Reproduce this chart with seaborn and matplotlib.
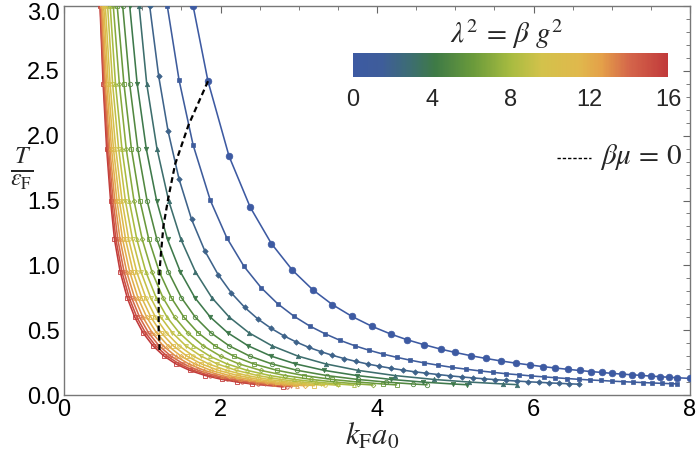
import numpy as np
import pandas as pd
import matplotlib
matplotlib.use("Agg")
import matplotlib.pyplot as plt
import matplotlib.transforms as mtransforms
import seaborn as sns
from matplotlib.colors import LinearSegmentedColormap, Normalize
from matplotlib.lines import Line2D
import matplotlib.colorbar as mcolorbar

# ---------------- data ----------------
LAMBDA2 = list(range(17))

# lambda^2 = 0
X0 = [1.65, 1.84, 2.11, 2.38, 2.65, 2.92, 3.18, 3.43, 3.68, 3.93, 4.18, 4.38, 4.6, 4.82, 5.0, 5.2,
      5.39, 5.58, 5.77, 5.95, 6.12, 6.28, 6.44, 6.59, 6.73, 6.87, 7.0, 7.13, 7.26, 7.38, 7.5, 7.62,
      7.73, 7.84, 8.0]
Y0 = [3.0, 2.42, 1.84, 1.448, 1.168, 0.962, 0.811, 0.697, 0.606, 0.531, 0.469, 0.427, 0.388, 0.353,
      0.328, 0.303, 0.282, 0.263, 0.246, 0.232, 0.219, 0.208, 0.198, 0.189, 0.181, 0.174, 0.167,
      0.161, 0.156, 0.151, 0.146, 0.141, 0.137, 0.133, 0.128]
# lambda^2 = 1
X1 = [1.32, 1.47, 1.65, 1.87, 2.08, 2.3, 2.52, 2.73, 2.94, 3.14, 3.34, 3.53, 3.72, 3.9, 4.08, 4.25,
      4.42, 4.6, 4.78, 4.96, 5.14, 5.31, 5.48, 5.65, 5.81, 5.97, 6.13, 6.28, 6.43, 6.58, 6.72, 6.86,
      7.0, 7.14, 7.27, 7.4, 7.52, 7.64, 7.76, 7.84]
Y1 = [3.0, 2.43, 1.928, 1.501, 1.213, 0.992, 0.827, 0.704, 0.607, 0.532, 0.471, 0.421, 0.379, 0.345,
      0.315, 0.291, 0.269, 0.248, 0.23, 0.213, 0.199, 0.186, 0.175, 0.164, 0.156, 0.147, 0.14, 0.133,
      0.127, 0.121, 0.116, 0.112, 0.107, 0.103, 0.0993, 0.0959, 0.0928, 0.0899, 0.0872, 0.0854]
# lambda^2 = 2
X2 = [1.095, 1.21, 1.33, 1.47, 1.63, 1.8, 1.97, 2.14, 2.31, 2.48, 2.65, 2.81, 2.97, 3.13, 3.28, 3.43,
      3.58, 3.73, 3.88, 4.03, 4.18, 4.33, 4.48, 4.63, 4.78, 4.93, 5.08, 5.23, 5.37, 5.51, 5.65, 5.79,
      5.93, 6.07, 6.2, 6.33, 6.46, 6.58]
Y2 = [3.0, 2.459, 2.035, 1.666, 1.355, 1.111, 0.928, 0.786, 0.675, 0.585, 0.513, 0.456, 0.408, 0.367,
      0.335, 0.306, 0.281, 0.259, 0.239, 0.222, 0.206, 0.192, 0.179, 0.168, 0.158, 0.148, 0.1395,
      0.1316, 0.1248, 0.1186, 0.1128, 0.1074, 0.1024, 0.0977, 0.0937, 0.0898, 0.0863, 0.0831]

# lambda^2 = 3 ... 16 : x positions at shared T/eps_F levels, plus each curve's last point
Y_LEVELS = [3.0, 2.4, 1.9, 1.5, 1.2, 0.95, 0.75, 0.6, 0.48, 0.38, 0.3, 0.24, 0.19, 0.15, 0.12, 0.1, 0.085]
X3 = [0.96, 1.057, 1.188, 1.337, 1.494, 1.68, 1.89, 2.113, 2.363, 2.656, 2.989, 3.342, 3.756, 4.227, 4.726, 5.177, 5.615]
X4 = [0.84, 0.935, 1.051, 1.183, 1.323, 1.487, 1.673, 1.871, 2.092, 2.351, 2.646, 2.958, 3.325, 3.742, 4.183, 4.582, 4.97]
X5 = [0.75, 0.839, 0.943, 1.061, 1.187, 1.334, 1.501, 1.678, 1.876, 2.109, 2.373, 2.654, 2.982, 3.357, 3.753, 4.111, 4.459]
X6 = [0.68, 0.766, 0.861, 0.97, 1.084, 1.218, 1.371, 1.533, 1.714, 1.926, 2.168, 2.424, 2.724, 3.066, 3.428, 3.755, 4.073]
X7 = [0.63, 0.707, 0.795, 0.894, 1.0, 1.124, 1.265, 1.414, 1.581, 1.777, 2.0, 2.236, 2.513, 2.828, 3.162, 3.464, 3.757]
X8 = [0.59, 0.658, 0.74, 0.833, 0.931, 1.046, 1.178, 1.317, 1.472, 1.654, 1.862, 2.082, 2.34, 2.633, 2.944, 3.225, 3.498]
X9 = [0.557, 0.621, 0.698, 0.784, 0.876, 0.984, 1.108, 1.238, 1.385, 1.556, 1.751, 1.958, 2.201, 2.477, 2.769, 3.033, 3.29]
X10 = [0.528, 0.589, 0.661, 0.742, 0.827, 0.929, 1.046, 1.169, 1.307, 1.469, 1.653, 1.848, 2.077, 2.338, 2.614, 2.864, 3.106]
X11 = [0.508, 0.565, 0.632, 0.707, 0.787, 0.883, 0.993, 1.111, 1.242, 1.395, 1.571, 1.756, 1.974, 2.221, 2.483, 2.72, 2.951]
X12 = [0.492, 0.545, 0.607, 0.676, 0.749, 0.84, 0.945, 1.057, 1.181, 1.328, 1.494, 1.671, 1.878, 2.113, 2.363, 2.588, 2.808]
X13 = [0.479, 0.528, 0.585, 0.649, 0.716, 0.801, 0.902, 1.008, 1.127, 1.267, 1.426, 1.594, 1.792, 2.017, 2.255, 2.47, 2.679]
X14 = [0.471, 0.517, 0.569, 0.627, 0.687, 0.768, 0.864, 0.966, 1.08, 1.214, 1.366, 1.527, 1.717, 1.932, 2.16, 2.366, 2.567]
X15 = [0.464, 0.506, 0.555, 0.608, 0.663, 0.74, 0.833, 0.931, 1.041, 1.17, 1.317, 1.472, 1.654, 1.862, 2.082, 2.28, 2.473]
X16 = [0.46, 0.5, 0.545, 0.595, 0.645, 0.718, 0.808, 0.904, 1.01, 1.136, 1.278, 1.429, 1.606, 1.807, 2.021, 2.214, 2.401]
END_X = [5.79, 5.15, 4.64, 4.25, 3.95, 3.7, 3.5, 3.33, 3.2, 3.08, 2.98, 2.9, 2.85, 2.8]
END_Y = [0.080, 0.079, 0.0785, 0.078, 0.077, 0.076, 0.075, 0.074, 0.072, 0.071, 0.069, 0.067, 0.064, 0.0625]

# beta*mu = 0 locus
MU0_X = [1.84, 1.59, 1.42, 1.33, 1.27, 1.24, 1.22, 1.21, 1.21, 1.21, 1.21, 1.21, 1.215, 1.22, 1.22, 1.22, 1.22]
MU0_Y = [2.42, 2.08, 1.78, 1.51, 1.30, 1.10, 0.95, 0.82, 0.71, 0.63, 0.56, 0.505, 0.454, 0.41, 0.376, 0.349, 0.33]

CBAR_TICKS = [0, 4, 8, 12, 16]
X_TICKS = [0, 2, 4, 6, 8]
Y_TICKS = [0.0, 0.5, 1.0, 1.5, 2.0, 2.5, 3.0]

# ---------------- build table ----------------
rows = []
for k, (xs, ys) in enumerate([(X0, Y0), (X1, Y1), (X2, Y2)]):
    for i, (x, y) in enumerate(zip(xs, ys)):
        rows.append((LAMBDA2[k], i, x, y))
for j, xs in enumerate([X3, X4, X5, X6, X7, X8, X9, X10, X11, X12, X13, X14, X15, X16]):
    k = j + 3
    pts = list(zip(xs, Y_LEVELS)) + [(END_X[j], END_Y[j])]
    for i, (x, y) in enumerate(pts):
        rows.append((LAMBDA2[k], i, x, y))
df = pd.DataFrame(rows, columns=["lam2", "idx", "kfa0", "T"])

# ---------------- style ----------------
sns.set_theme(style="white")
plt.rcParams["font.family"] = ["Liberation Sans", "DejaVu Sans"]
plt.rcParams["mathtext.fontset"] = "stix"

cmap = LinearSegmentedColormap.from_list("darkrainbow", [
    (0.0, "#3d5aa2"), (0.09, "#3e5d9a"), (0.18, "#3d6d72"), (0.26, "#3e7a46"),
    (0.38, "#6a9a3b"), (0.5, "#a7bb40"), (0.6, "#d3c24b"), (0.72, "#e0b84c"),
    (0.79, "#e4a049"), (0.88, "#d4654a"), (1.0, "#c13a3b")])
norm = Normalize(0, 16)

fig = plt.figure(figsize=(6.97, 4.54), dpi=100)
ax = fig.add_axes([64 / 697, 1 - 395 / 454, (690 - 64) / 697, (395 - 6) / 454])

markers = ["o", "s", "D", "^", "v", "o", "s", "D", "^", "v", "o", "s", "D", "^", "v", "o", "s"]
msizes = [4.8, 3.0, 2.8, 3.2, 3.2, 3.2, 2.6, 2.4, 2.8, 2.8, 2.6, 2.4, 2.2, 2.6, 2.6, 2.4, 2.2]

for k in LAMBDA2:
    sub = df[df["lam2"] == k].sort_values("idx")
    col = cmap(norm(k))
    filled = k < 5
    sns.lineplot(data=sub, x="kfa0", y="T", sort=False, estimator=None, ax=ax,
                 color=col, lw=1.15, marker=markers[k], markersize=msizes[k],
                 markerfacecolor=col if filled else "none",
                 markeredgecolor=col, markeredgewidth=0.5 if filled else 0.6,
                 legend=False, zorder=3 + (16 - k) * 0.01)

sns.lineplot(x=MU0_X, y=MU0_Y, sort=False, estimator=None, ax=ax, color="black",
             lw=1.6, legend=False, zorder=10)
ax.lines[-1].set_dashes((2.6, 1.6))

ax.set_xlim(0, 8)
ax.set_ylim(0, 3)
ax.set_xticks(X_TICKS)
ax.set_yticks(Y_TICKS)
ax.set_xticklabels([str(t) for t in X_TICKS])
ax.set_yticklabels([f"{t:.1f}" for t in Y_TICKS])
ax.set_xticks(np.arange(0, 8.01, 0.5), minor=True)
ax.set_yticks(np.arange(0, 3.001, 0.1), minor=True)
ax.tick_params(which="both", direction="in", top=True, right=True, color="#666666")
ax.tick_params(which="major", length=5, width=0.8, labelsize=17, pad=3, labelcolor="black")
ax.tick_params(which="minor", length=2.8, width=0.6)
for s in ax.spines.values():
    s.set_color("#777777")
    s.set_linewidth(1.0)
ax.set_xlabel("")
ax.set_ylabel("")

# keep the top y tick label inside the picture
top_lab = ax.get_yticklabels()[-1]
top_lab.set_transform(top_lab.get_transform() +
                      mtransforms.ScaledTranslation(0, -4 / 72, fig.dpi_scale_trans))

fig.text(372 / 697, 1 - 437 / 454, r"$k_{\mathrm{F}}a_0$", fontsize=22, ha="center", va="center")
fig.text(22 / 697, 1 - 169 / 454, r"$\frac{T}{\varepsilon_{\mathrm{F}}}$", fontsize=25,
         ha="center", va="center")

# colorbar
cax = fig.add_axes([353 / 697, 1 - 77 / 454, (668 - 353) / 697, 24 / 454])
cb = mcolorbar.ColorbarBase(cax, cmap=cmap, norm=norm, orientation="horizontal", ticks=CBAR_TICKS)
cb.outline.set_visible(False)
cax.tick_params(length=0, labelsize=17, pad=9)
cax.set_xticklabels([str(t) for t in CBAR_TICKS])
fig.text(507 / 697, 1 - 34 / 454, r"$\lambda^2 \,=\, \beta\ g^2$", fontsize=21, ha="center", va="center")

# key for beta mu = 0
fig.add_artist(Line2D([557 / 697, 591 / 697], [1 - 158 / 454, 1 - 158 / 454], transform=fig.transFigure,
                      color="black", lw=1.0, dashes=(2.4, 1.4)))
fig.text(600 / 697, 1 - 157 / 454, r"$\beta\mu \,=\, 0$", fontsize=21, ha="left", va="center")

fig.savefig("out.png", dpi=100)
